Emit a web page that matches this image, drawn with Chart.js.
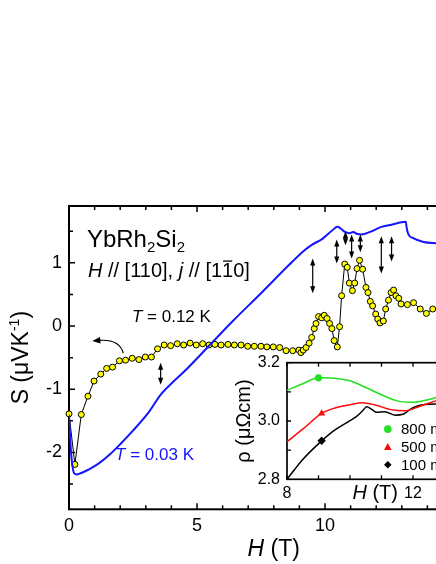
<!DOCTYPE html>
<html lang="en">
<head>
<meta charset="UTF-8">
<title>YbRh2Si2 thermopower</title>
<style>
  html, body { margin: 0; padding: 0; background: #fff; overflow: hidden; }
  body { width: 436px; height: 564px; position: relative; }
  #main { position: absolute; left: 0; top: 0; }
  #inset { position: absolute; left: 220px; top: 345px; }
</style>
</head>
<body>
<canvas id="main" width="500" height="564"></canvas>
<canvas id="inset" width="300" height="170"></canvas>

<script src="https://cdn.jsdelivr.net/npm/chart.js"></script>
<script>
// thermopower S(H), T = 0.12 K (yellow circles)
const fieldT012 = [0, 0.23, 0.48, 0.74, 0.98, 1.24, 1.47, 1.70, 1.97, 2.21, 2.47, 2.73, 2.98, 3.22, 3.46, 3.72, 3.97, 4.23, 4.48, 4.73,
  4.97, 5.22, 5.47, 5.70, 5.94, 6.21, 6.46, 6.72, 6.98, 7.24, 7.50, 7.73, 7.98, 8.23, 8.48, 8.74, 8.98, 9.06, 9.15, 9.26,
  9.38, 9.48, 9.58, 9.65, 9.75, 9.87, 9.97, 10.08, 10.18, 10.27, 10.36, 10.48, 10.57, 10.65, 10.77, 10.87, 10.95, 11.07, 11.16, 11.25,
  11.35, 11.47, 11.60, 11.68, 11.77, 11.86, 11.98, 12.06, 12.15, 12.28, 12.37, 12.48, 12.58, 12.68, 12.77, 12.88, 12.97, 13.22, 13.46, 13.72,
  13.96, 14.21];
const seebeckT012 = [-1.39, -2.19, -1.40, -1.11, -0.87, -0.76, -0.67, -0.65, -0.55, -0.54, -0.51, -0.53, -0.49, -0.49, -0.36, -0.30, -0.31, -0.28, -0.30, -0.27,
  -0.30, -0.28, -0.30, -0.29, -0.30, -0.29, -0.30, -0.30, -0.32, -0.32, -0.32, -0.33, -0.33, -0.34, -0.39, -0.39, -0.38, -0.42, -0.38, -0.34,
  -0.27, -0.18, -0.04, 0.04, 0.15, 0.13, 0.17, 0.12, 0.04, -0.04, -0.23, -0.33, -0.01, 0.48, 0.98, 0.93, 0.68, 0.56, 0.68, 0.91,
  1.04, 0.90, 0.61, 0.53, 0.39, 0.32, 0.19, 0.11, 0.05, 0.08, 0.27, 0.41, 0.53, 0.57, 0.48, 0.44, 0.35, 0.34, 0.37, 0.27,
  0.20, 0.27];

// thermopower S(H), T = 0.03 K (blue line)
const fieldT003 = [0, 0.04, 0.08, 0.13, 0.20, 0.30, 0.45, 0.67, 0.90, 1.18, 1.60, 2.00, 2.49, 3.14, 3.59, 4.05, 4.50, 5.50, 6.40, 7.50,
  8.60, 9.20, 9.50, 9.90, 10.30, 10.48, 10.62, 10.78, 10.95, 11.10, 11.24, 11.43, 11.76, 12.20, 12.55, 13.16, 13.18, 13.25, 13.45, 13.85,
  14.40];
const seebeckT003 = [-1.40, -1.72, -2.00, -2.20, -2.33, -2.35, -2.33, -2.29, -2.24, -2.17, -2.03, -1.87, -1.66, -1.35, -1.08, -0.89, -0.72, -0.30, 0.08, 0.52,
  0.97, 1.20, 1.29, 1.38, 1.52, 1.57, 1.54, 1.49, 1.47, 1.49, 1.46, 1.45, 1.49, 1.57, 1.60, 1.65, 1.58, 1.46, 1.39, 1.33,
  1.31];

// transition arrows (field, top and bottom of arrow in S units)
const arrowField = [3.58, 9.52, 10.46, 10.80, 11.04, 11.38, 12.20, 12.60];
const arrowTop = [-0.58, 1.07, 1.37, 1.50, 1.45, 1.45, 1.42, 1.42];
const arrowBottom = [-0.93, 0.52, 0.99, 1.28, 1.07, 1.17, 0.83, 1.02];

// inset: resistivity rho(H)
const field800 = [8.0, 8.5, 9.0, 9.5, 10.0, 10.5, 11.0, 11.5, 12.0, 12.4, 12.8];
const rho800 = [3.105, 3.128, 3.148, 3.147, 3.138, 3.115, 3.090, 3.069, 3.064, 3.071, 3.082];
const field500 = [8.0, 8.5, 9.1, 9.5, 10.0, 10.4, 10.8, 11.3, 11.75, 12.2, 12.75];
const rho500 = [2.929, 2.972, 3.026, 3.044, 3.056, 3.063, 3.055, 3.039, 3.035, 3.050, 3.070];
const field100 = [8.0, 8.5, 9.1, 9.5, 9.95, 10.2, 10.4, 10.53, 10.69, 10.85, 11.1, 11.43, 11.7, 12.0, 12.38, 12.75];
const rho100 = [2.800, 2.868, 2.932, 2.968, 2.998, 3.015, 3.035, 3.049, 3.040, 3.030, 3.032, 3.020, 3.024, 3.046, 3.057, 3.058];
const insetLabels = ['800 mK', '500 mK', '100 mK'];
const markerField = [9.0, 9.1, 9.1];
const markerRho = [3.148, 3.026, 2.932];

const FONT = '"Liberation Sans", Arial, Helvetica, sans-serif';
const BLUE = '#1414ff';
const insetColors = ['#22e022', '#ff0a0a', '#000000'];
const insetStyles = ['circle', 'triangle', 'rectRot'];

const pts = (xs, ys) => xs.map((x, i) => ({ x: x, y: ys[i] }));
const isMultiple = (v, m) => Math.abs(v / m - Math.round(v / m)) < 1e-6;

function setFont(ctx, size, italic) {
  ctx.font = (italic ? 'italic ' : '') + size + 'px ' + FONT;
}

// text with italic / sub / sup / overline pieces
function drawRich(ctx, parts, x, y, size, color, align) {
  const pieces = parts.map(([t, k]) => {
    const s = (k === 'sub' || k === 'sup') ? Math.round(size * 0.62) : size;
    setFont(ctx, s, k === 'i');
    return { t, k, s, w: ctx.measureText(t).width };
  });
  const total = pieces.reduce((a, p) => a + p.w, 0);
  let cx = align === 'center' ? x - total / 2 : x;
  ctx.save();
  ctx.fillStyle = color;
  ctx.strokeStyle = color;
  ctx.textAlign = 'left';
  ctx.textBaseline = 'alphabetic';
  pieces.forEach(p => {
    setFont(ctx, p.s, p.k === 'i');
    let dy = 0;
    if (p.k === 'sub') dy = size * 0.22;
    if (p.k === 'sup') dy = -size * 0.38;
    ctx.fillText(p.t, cx, y + dy);
    if (p.k === 'bar') {
      ctx.lineWidth = 1.3;
      ctx.beginPath();
      ctx.moveTo(cx + 1, y - size * 0.8);
      ctx.lineTo(cx + p.w - 1, y - size * 0.8);
      ctx.stroke();
    }
    cx += p.w;
  });
  ctx.restore();
}

function head(ctx, x, y, dx, dy, len, half) {
  ctx.beginPath();
  ctx.moveTo(x, y);
  ctx.lineTo(x - dx * len - dy * half, y - dy * len + dx * half);
  ctx.lineTo(x - dx * len + dy * half, y - dy * len - dx * half);
  ctx.closePath();
  ctx.fill();
}

function doubleArrow(ctx, x, y1, y2) {
  ctx.beginPath();
  ctx.moveTo(x, y1 + 5);
  ctx.lineTo(x, y2 - 5);
  ctx.stroke();
  head(ctx, x, y1, 0, -1, 7, 2.6);
  head(ctx, x, y2, 0, 1, 7, 2.6);
}

function drawMarker(ctx, style, color, x, y, r) {
  ctx.save();
  ctx.fillStyle = color;
  ctx.beginPath();
  if (style === 'circle') {
    ctx.arc(x, y, r, 0, Math.PI * 2);
  } else if (style === 'triangle') {
    ctx.moveTo(x, y - r * 1.1);
    ctx.lineTo(x + r, y + r * 0.75);
    ctx.lineTo(x - r, y + r * 0.75);
  } else {
    ctx.moveTo(x, y - r);
    ctx.lineTo(x + r, y);
    ctx.lineTo(x, y + r);
    ctx.lineTo(x - r, y);
  }
  ctx.closePath();
  ctx.fill();
  ctx.restore();
}

// box round the plot with inward ticks on all four sides
const framePlugin = {
  id: 'frame',
  beforeDatasetsDraw(chart, args, o) {
    const { ctx, chartArea: a, scales: { x, y } } = chart;
    ctx.save();
    if (o.fill) {
      ctx.fillStyle = o.fill;
      ctx.fillRect(a.left, a.top, a.right - a.left, a.bottom - a.top);
    }
    ctx.strokeStyle = '#000';
    ctx.lineWidth = o.tickWidth;
    ctx.beginPath();
    for (let k = Math.ceil(x.min / o.xMinor - 1e-9); k * o.xMinor <= x.max + 1e-9; k++) {
      const v = k * o.xMinor;
      const px = x.getPixelForValue(v);
      const len = isMultiple(v, o.xMajor) ? o.major : o.minor;
      ctx.moveTo(px, a.bottom); ctx.lineTo(px, a.bottom - len);
      ctx.moveTo(px, a.top); ctx.lineTo(px, a.top + len);
    }
    for (let k = Math.ceil(y.min / o.yMinor - 1e-9); k * o.yMinor <= y.max + 1e-9; k++) {
      const v = k * o.yMinor;
      const py = y.getPixelForValue(v);
      const len = isMultiple(v, o.yMajor) ? o.major : o.minor;
      ctx.moveTo(a.left, py); ctx.lineTo(a.left + len, py);
      ctx.moveTo(a.right, py); ctx.lineTo(a.right - len, py);
    }
    ctx.stroke();
    ctx.lineWidth = o.lineWidth;
    ctx.strokeRect(a.left, a.top, a.right - a.left, a.bottom - a.top);
    ctx.restore();
  }
};

const mainNotes = {
  id: 'mainNotes',
  afterDatasetsDraw(chart) {
    const { ctx, chartArea: a, scales: { x, y } } = chart;
    ctx.save();
    ctx.fillStyle = '#000';
    ctx.strokeStyle = '#000';
    ctx.lineWidth = 1.2;
    arrowField.forEach((h, i) => {
      doubleArrow(ctx, x.getPixelForValue(h), y.getPixelForValue(arrowTop[i]), y.getPixelForValue(arrowBottom[i]));
    });
    // curved arrow pointing to the left axis
    const sx = x.getPixelForValue(2.12), sy = y.getPixelForValue(-0.43);
    const cx = x.getPixelForValue(1.98), cy = y.getPixelForValue(-0.20);
    const ex = x.getPixelForValue(0.91), ey = y.getPixelForValue(-0.235);
    const d = Math.hypot(ex - cx, ey - cy);
    const ux = (ex - cx) / d, uy = (ey - cy) / d;
    ctx.beginPath();
    ctx.moveTo(sx, sy);
    ctx.quadraticCurveTo(cx, cy, ex - ux * 6, ey - uy * 6);
    ctx.stroke();
    head(ctx, ex, ey, ux, uy, 8, 3.2);
    ctx.restore();

    drawRich(ctx, [['YbRh', ''], ['2', 'sub'], ['Si', ''], ['2', 'sub']],
      x.getPixelForValue(0.70), y.getPixelForValue(1.25), 24, '#000');
    drawRich(ctx, [['H', 'i'], [' // [110], ', ''], ['j', 'i'], [' // [1', ''], ['1', 'bar'], ['0]', '']],
      x.getPixelForValue(0.74), y.getPixelForValue(0.775), 20, '#000');
    drawRich(ctx, [['T', 'i'], [' = 0.12 K', '']],
      x.getPixelForValue(2.46), y.getPixelForValue(0.068), 17, '#000');
    drawRich(ctx, [['T', 'i'], [' = 0.03 K', '']],
      x.getPixelForValue(1.80), y.getPixelForValue(-2.12), 17, BLUE);

    // axis titles
    drawRich(ctx, [['H', 'i'], [' (T)', '']], (a.left + a.right) / 2, a.bottom + 47, 23, '#000', 'center');
    ctx.save();
    ctx.translate(a.left - 41, (a.top + a.bottom) / 2);
    ctx.rotate(-Math.PI / 2);
    drawRich(ctx, [['S (\u03bcVK', ''], ['-1', 'sup'], [')', '']], 0, 0, 23, '#000', 'center');
    ctx.restore();
  }
};

const insetNotes = {
  id: 'insetNotes',
  afterDatasetsDraw(chart) {
    const { ctx, chartArea: a, scales: { x, y } } = chart;
    const legendRho = [2.972, 2.910, 2.850];
    insetLabels.forEach((lab, i) => {
      const py = y.getPixelForValue(legendRho[i]);
      drawMarker(ctx, insetStyles[i], insetColors[i], x.getPixelForValue(11.2), py, 3.8);
      ctx.save();
      setFont(ctx, 15, false);
      ctx.fillStyle = '#000';
      ctx.textBaseline = 'middle';
      ctx.fillText(lab, x.getPixelForValue(11.62), py + 1);
      ctx.restore();
    });
    drawRich(ctx, [['H', 'i'], [' (T)', '']], x.getPixelForValue(10.8), a.bottom + 20, 20, '#000', 'center');
    ctx.save();
    ctx.translate(a.left - 37, (a.top + a.bottom) / 2);
    ctx.rotate(-Math.PI / 2);
    drawRich(ctx, [['\u03c1 (\u03bc\u03a9cm)', '']], 0, 0, 20, '#000', 'center');
    ctx.restore();
  }
};

const tickFont = size => ({ size: size, family: FONT });

new Chart(document.getElementById('main'), {
  type: 'scatter',
  data: {
    datasets: [
      {
        label: 'T = 0.03 K',
        data: pts(fieldT003, seebeckT003),
        showLine: true,
        borderColor: BLUE,
        borderWidth: 2,
        pointRadius: 0,
        cubicInterpolationMode: 'monotone'
      },
      {
        label: 'T = 0.12 K',
        data: pts(fieldT012, seebeckT012),
        showLine: true,
        borderColor: '#000',
        borderWidth: 1,
        tension: 0,
        pointRadius: 3,
        pointBackgroundColor: '#ffff00',
        pointBorderColor: '#000',
        pointBorderWidth: 1,
        clip: false
      }
    ]
  },
  options: {
    responsive: false,
    animation: false,
    layout: { padding: { top: 206, right: 21.4, left: 0, bottom: 0 } },
    plugins: {
      legend: { display: false },
      tooltip: { enabled: false },
      frame: { xMinor: 1, xMajor: 5, yMinor: 0.5, yMajor: 1, major: 6, minor: 4, lineWidth: 2, tickWidth: 1.5 }
    },
    scales: {
      x: {
        type: 'linear', min: 0, max: 16,
        afterFit: s => { s.height = 54.7; },
        grid: { display: false, drawTicks: false },
        border: { display: false },
        ticks: {
          stepSize: 1, autoSkip: false, maxRotation: 0, padding: 6, color: '#000', font: tickFont(18),
          callback: v => isMultiple(v, 5) ? String(Math.round(v)) : ''
        }
      },
      y: {
        type: 'linear', min: -2.9, max: 1.9,
        afterFit: s => { s.width = 69; },
        grid: { display: false, drawTicks: false },
        border: { display: false },
        ticks: {
          stepSize: 0.5, autoSkip: false, padding: 7, color: '#000', font: tickFont(18),
          callback: v => isMultiple(v, 1) ? String(Math.round(v)) : ''
        }
      }
    }
  },
  plugins: [framePlugin, mainNotes]
});

const insetSets = [[field800, rho800], [field500, rho500], [field100, rho100]].map(([f, r], i) => ({
  label: insetLabels[i],
  data: pts(f, r),
  showLine: true,
  borderColor: insetColors[i],
  borderWidth: 1.5,
  pointRadius: 0,
  cubicInterpolationMode: 'monotone'
}));
const markerSets = markerField.map((f, i) => ({
  label: insetLabels[i] + ' marker',
  data: [{ x: f, y: markerRho[i] }],
  pointStyle: insetStyles[i],
  pointRadius: i === 0 ? 3.6 : 4.2,
  pointBackgroundColor: insetColors[i],
  pointBorderColor: insetColors[i],
  pointBorderWidth: 0
}));

new Chart(document.getElementById('inset'), {
  type: 'scatter',
  data: { datasets: insetSets.concat(markerSets) },
  options: {
    responsive: false,
    animation: false,
    layout: { padding: { top: 17.7, right: 44, left: 0, bottom: 0 } },
    plugins: {
      legend: { display: false },
      tooltip: { enabled: false },
      frame: { fill: '#fff', xMinor: 1, xMajor: 4, yMinor: 0.1, yMajor: 0.2, major: 4, minor: 4, lineWidth: 1.7, tickWidth: 1.3 }
    },
    scales: {
      x: {
        type: 'linear', min: 8, max: 14,
        afterFit: s => { s.height = 35.7; },
        grid: { display: false, drawTicks: false },
        border: { display: false },
        ticks: {
          stepSize: 1, autoSkip: false, maxRotation: 0, padding: 5, color: '#000', font: tickFont(16),
          callback: v => isMultiple(v, 4) ? String(Math.round(v)) : ''
        }
      },
      y: {
        type: 'linear', min: 2.8, max: 3.2,
        afterFit: s => { s.width = 67; },
        grid: { display: false, drawTicks: false },
        border: { display: false },
        ticks: {
          stepSize: 0.1, autoSkip: false, padding: 7, color: '#000', font: tickFont(16),
          callback: v => isMultiple(v, 0.2) ? v.toFixed(1) : ''
        }
      }
    }
  },
  plugins: [framePlugin, insetNotes]
});
</script>
</body>
</html>
